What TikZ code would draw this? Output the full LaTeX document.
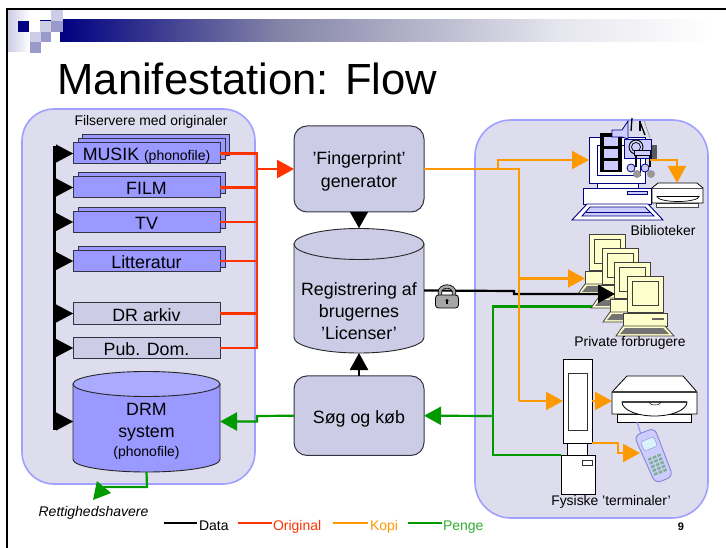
\documentclass[tikz,border=0pt]{standalone}
\usepackage{fontspec}
\setmainfont{Liberation Sans}
\usetikzlibrary{arrows.meta,calc}
\definecolor{navyh}{HTML}{000080}
\definecolor{panelfill}{HTML}{DDDDEE}
\definecolor{panelline}{HTML}{9FA0FF}
\definecolor{boxblue}{HTML}{9999FF}
\definecolor{boxlight}{HTML}{CCCCE6}
\definecolor{edgeline}{HTML}{333344}
\definecolor{redc}{HTML}{FF3300}
\definecolor{orangec}{HTML}{FF9900}
\definecolor{greenc}{HTML}{009900}
\definecolor{creamc}{HTML}{FFFFCC}
\definecolor{iconnavy}{HTML}{000080}
\definecolor{iconlav}{HTML}{CCCCFF}
\definecolor{sqmid}{HTML}{9999CC}
\definecolor{drumtop}{HTML}{AAAAFF}
\newcommand{\fs}[1]{\fontsize{#1}{#1}\selectfont}
% centre x, top ellipse y, bottom ellipse y, rx, ry, body colour, end colour
\newcommand{\drumdraw}[7]{%
  \draw[draw=black!85,line width=.9pt,fill=#6]
    ({#1-#4},#2) -- ({#1-#4},#3)
    arc[start angle=180,end angle=360,x radius=#4pt,y radius=#5pt]
    -- ({#1+#4},#2) -- cycle;
  \draw[draw=black!85,line width=.9pt,fill=#7] (#1,#2) ellipse[x radius=#4pt,y radius=#5pt];}
\newcommand{\creampc}[2]{%
  \begin{scope}[shift={(#1,#2)}]
    \fill[creamc,draw=black!75,line width=.8pt] (-4,37) rectangle (40,50);
    \fill[black!60] (25,42) rectangle (37,44);
    \fill[creamc,draw=black!75,line width=.8pt] (-4,50) -- (38,50) -- (47,60) -- (-11,60) -- cycle;
    \fill[black!55] (-2,52) -- (36,52) -- (42,58) -- (-7,58) -- cycle;
    \fill[creamc,draw=black!75,line width=.8pt] (0,0) rectangle (36,36);
    \fill[creamc,draw=black!75,line width=.8pt] (5,5) rectangle (31,29);
  \end{scope}}
\begin{document}
\begin{tikzpicture}[x=1pt,y=-1pt,
  panel/.style={draw=panelline,fill=panelfill,line width=1.6pt,rounded corners=32pt},
  srv/.style={draw=edgeline,line width=1pt,fill=boxblue},
  boxnode/.style={srv,rectangle,minimum width=147pt,minimum height=21pt,inner sep=0pt,outer sep=0pt,text height=15pt,text depth=0pt,font=\fs{17.8}},
  greybox/.style={boxnode,fill=boxlight},
  procbox/.style={draw=edgeline,fill=boxlight,line width=1pt,rounded corners=13pt,minimum width=130pt,inner sep=0pt,outer sep=0pt,align=center,font=\fs{17.8}},
  drumarea/.style={rectangle,inner sep=0pt,outer sep=0pt},
  lbl/.style={inner sep=0pt,outer sep=0pt,align=center},
  redl/.style={draw=redc,line width=2.2pt},
  orgl/.style={draw=orangec,line width=2.2pt},
  grnl/.style={draw=greenc,line width=2.2pt},
  blkl/.style={draw=black,line width=2.2pt},
  bigtip/.style={-{Triangle[length=17pt,width=18pt]}},
  legline/.style={line width=2.8pt},
  legtxt/.style={inner sep=0pt,outer sep=0pt,anchor=base west,font=\fs{14}},
  ]
\useasboundingbox (0,0) rectangle (726,548);
\fill[white] (0,0) rectangle (726,548);
% slide header
\shade[left color=navyh,right color={rgb,255:red,132;green,132;blue,168}] (60,20) rectangle (280,42);
\shade[left color={rgb,255:red,132;green,132;blue,168},right color={rgb,255:red,230;green,230;blue,238}] (280,20) rectangle (560,42);
\shade[left color={rgb,255:red,230;green,230;blue,238},right color=white] (560,20) rectangle (710,42);
\shade[left color=boxlight,right color=white] (8,10) rectangle (30,52);
\fill[navyh] (18,21) rectangle (29,32);
\fill[boxlight] (40,21) rectangle (51,32);
\fill[navyh] (40,20) rectangle (51,21.5);
\fill[boxlight] (51,10) rectangle (63,21);
\fill[sqmid] (51,21) rectangle (63,32);
\fill[boxlight] (30,32) rectangle (41,42);
\fill[sqmid] (41,32) rectangle (51,42);
\fill[sqmid] (30,42) rectangle (41,53);
\draw[black,line width=2.2pt] (7,548) -- (7,9) -- (726,9);
\node[lbl,anchor=base west,font=\fs{43.6}] (title) at (57.5,95) {Manifestation: Flow};
% panels
\draw[panel] (22,109) rectangle (255,484);
\draw[panel,rounded corners=36pt] (475,120) rectangle (708,518);
\node[lbl,font=\fs{13.9}] (filsrv) at (151,122) {Filservere med originaler};
% stacked servers
\draw[srv] (82,135) rectangle (229,156);
\draw[srv] (78,139) rectangle (225,160);
\node[boxnode] (musik) at (146.5,153.5) {MUSIK {\fs{14}(phonofile)}};
\draw[srv] (78,173) rectangle (225,194);
\node[boxnode] (film) at (146.5,187.5) {FILM};
\draw[srv] (78,207.5) rectangle (225,228.5);
\node[boxnode] (tv) at (146.5,222) {TV};
\draw[srv] (78,246.5) rectangle (225,267.5);
\node[boxnode] (litt) at (146.5,261) {Litteratur};
\node[greybox] (drark) at (146.5,313.5) {DR arkiv};
\node[greybox] (pub) at (146.5,348) {Pub. Dom.};
% DRM cylinder
\node[drumarea,minimum height=101pt,minimum width=147pt] (drm) at (146.5,421.5) {};
\drumdraw{146.5}{384}{459.5}{73.5}{12.5}{boxblue}{drumtop}
\node[lbl,font=\fs{17.8},text depth=0pt] (drmt) at (146.5,430) {DRM\\[3.5pt]system\\[1.5pt]{\fs{14}(phonofile)}};
% centre column
\node[procbox,minimum height=86pt] (fp) at (359,169) {\rule{0pt}{17pt}'Fingerprint'\\[5pt]generator};
\node[drumarea,minimum height=125pt,minimum width=130pt] (reg) at (359,290.5) {};
\drumdraw{359}{244}{337.5}{65}{15.5}{boxlight}{boxlight}
\node[lbl,font=\fs{17.8}] (regt) at (359,311) {Registrering af\hspace{4pt}\\[5pt]brugernes\\[4pt]'Licenser'};
\node[procbox,minimum height=79.5pt] (sog) at (359,415.7) {\rule{0pt}{19pt}Søg og køb};
% anchor coordinates
\coordinate (busR) at (257,169);
\coordinate (libin) at (589,160);
\coordinate (privin) at (585,278.5);
\coordinate (blackin) at (615,294);
\coordinate (termin) at (563,401);
\coordinate (termtop) at (592,401);
\coordinate (bigdisc) at (612,401);
\coordinate (termlow) at (592,443);
\coordinate (phonein) at (640,453);
\coordinate (libout) at (650,160);
\coordinate (smalldisc) at (677,183);
\coordinate (termbase) at (561,455);
\coordinate (pcgreen) at (610,306.5);
\coordinate (rett) at (93,500);
% black data bus
\coordinate (busT) at (54.5,146);
\coordinate (busB) at (54.5,430);
\draw[black,line width=2.6pt] (busT) -- (busB);
\foreach \n in {musik,film,tv,litt,drark,pub,drm}{
  \draw[black,line width=.1pt,-{Triangle[length=17pt,width=18pt]}] (\n.west -| busT) -- (\n.west);
}
% red lines
\foreach \n in {musik,film,tv,litt,drark,pub}{
  \draw[redl] (\n.east) -- (\n.east -| busR);
}
\draw[redl,line cap=rect] (musik.east -| busR) -- (pub.east -| busR);
\draw[draw=redc,line width=2.6pt,bigtip] (busR) -- (fp.west);
% centre black arrows
\draw[black,line width=.1pt,-{Triangle[length=16pt,width=18pt]}] (fp.south) -- (reg.north);
\draw[blkl,line width=2.4pt,bigtip] (sog.north) -- (reg.south);
% green lines under the PCs
\draw[grnl] (pcgreen) -- (493,306.5) -- (493,455) -- (termbase);
\draw[grnl,bigtip] (493,416) -- (sog.east);
\draw[grnl,bigtip] (sog.west) -- (257,416) -- (257,421.5) -- (drm.east);
\draw[grnl,bigtip] (drm.south) -- (147,487) -- (104,487) -- (rett);
% Biblioteker computer
\begin{scope}[draw=iconnavy,line width=.9pt]
  \draw[fill=white] (597,183) rectangle (638,188);
  \draw[fill=white] (583,188) rectangle (651,204);
  \draw[fill=iconlav] (627,191.5) rectangle (647,194.5);
  \draw[fill=white] (587,204) -- (648,204) -- (663,220) -- (572,220) -- cycle;
  \draw[fill=iconlav] (590,207) -- (645,207) -- (654,216) -- (582,216) -- cycle;
  \draw[line width=.6pt] (586,212) -- (650,212);
  \draw[fill=white] (589,137) rectangle (645,183);
  \draw[fill=white] (597,145) rectangle (640,175);
\end{scope}
\fill[black] (600,133) rectangle (622,172);
\foreach \y in {137,149,161}{\fill[iconlav] (604,\y) rectangle (618,\y+9);}
\fill[black!65] (650,145) rectangle (657,160);
\fill[black!40] (637,174) circle[radius=4pt];
\fill[black!40] (651,174) circle[radius=4pt];
\draw[iconnavy,fill=iconlav,line width=.8pt] (612,130) -- (622,130) -- (628,121) -- (628,139) -- (622,137) -- (612,137) -- cycle;
\draw[black,line width=1.3pt] (631,131) -- (632,118);
\draw[black,line width=1.3pt] (640,131) -- (640,121);
\draw[black,line width=1.3pt] (645,135) -- (640,122);
\draw[black!40,line width=.7pt] (650,138) -- (644,120);
\draw[iconnavy,fill=iconlav,line width=.8pt] (624,139) rectangle (651,158);
\draw[black,line width=.9pt,fill=iconlav] (636,147) circle[radius=7pt];
\draw[black,line width=.7pt] (636,147) circle[radius=4.5pt];
\draw[black,fill=iconlav,line width=.7pt] (634,150) rectangle (650,155);
\draw[black,line width=1.2pt] (636,155) -- (636,167);
\draw[black,line width=1.2pt] (650,155) -- (650,167);
\draw[iconnavy,fill=iconlav,line width=.8pt] (631,168) circle[radius=4pt];
\draw[iconnavy,fill=iconlav,line width=.8pt] (645,168) circle[radius=4pt];
% small disc player
\draw[black!70,fill=white,line width=.7pt] (656,203) rectangle (698,207);
\draw[black,fill=white,line width=.8pt] (658,183) -- (697,183) -- (703,188) -- (703,203) -- (652,203) -- (652,188) -- cycle;
\draw[black!70,line width=.8pt] (652,188) -- (703,188);
\draw[black,fill=white,line width=.7pt] (657,196.5) arc[start angle=180,end angle=360,x radius=21pt,y radius=5pt] -- cycle;
% orange lines
\draw[orgl,bigtip] (libout) -- (677,160) -- (smalldisc);
% private PCs
\creampc{589}{234}
\creampc{602}{248}
\creampc{614}{262}
\creampc{627}{276}
% black connector and padlock
\draw[blkl,bigtip] (reg.east) -- (514,291) -- (514,294) -- (blackin);
\node[lbl] (lock) at (447,297) {};
\begin{scope}[shift={(lock)}]
  \draw[black,line width=4.2pt] (-7,0) -- (-7,-5) arc[start angle=180,end angle=0,x radius=7pt,y radius=5.5pt] -- (7,0);
  \draw[black!35,line width=2.6pt] (-7,0) -- (-7,-5) arc[start angle=180,end angle=0,x radius=7pt,y radius=5.5pt] -- (7,0);
  \draw[black,fill=black!35,line width=.8pt,rounded corners=3pt] (-11.5,-2) rectangle (11.5,11);
  \fill[black] (0,3.5) circle[radius=1.6pt];
  \fill[black] (-1.2,3.5) rectangle (1.2,7.5);
\end{scope}
% orange connectors
\draw[orgl] (fp.east) -- (519,169) -- (519,401);
\draw[orgl,bigtip] (498,169) -- (498,160) -- (libin);
\draw[orgl,bigtip] (519,278.5) -- (privin);
\draw[orgl,bigtip] (519,401) -- (termin);
% terminal
\draw[black,fill=white,line width=.8pt] (567,443) rectangle (587,455);
\draw[black,fill=white,line width=.8pt] (561,455) rectangle (595,494);
\draw[black!80,fill=white,line width=.7pt] (582,460) rectangle (592,465);
\draw[black,fill=white,line width=.8pt] (563,359) rectangle (592,443);
\draw[black!80,fill=white,line width=.7pt] (568,373) rectangle (587,430);
\draw[orgl,bigtip] (termtop) -- (bigdisc);
\draw[orgl,bigtip] (termlow) -- (618,443) -- (618,453) -- (phonein);
% big disc player
\draw[black,fill=white,line width=.8pt] (617,414) rectangle (691,422);
\draw[black,fill=white,line width=.8pt] (627,376) -- (683,376) -- (697,392) -- (697,414) -- (612,414) -- (612,392) -- cycle;
\draw[black!75,line width=1.4pt] (612,392) -- (697,392);
\draw[black,fill=white,line width=.8pt] (622,402) arc[start angle=180,end angle=360,x radius=32.5pt,y radius=14pt] -- cycle;
\draw[black!75,line width=1.1pt] (622,402) -- (687,402);
\draw[black,line width=.5pt] (649,402) arc[start angle=180,end angle=360,x radius=6pt,y radius=3pt];
% mobile phone
\begin{scope}[shift={(654,456)},rotate=22]
  \draw[iconlav!70!blue,line width=1pt] (-4,-24) -- (-3,-38);
  \draw[iconnavy!35!iconlav,fill=iconlav,line width=.9pt,rounded corners=6pt] (-11,-26) -- (11,-26) -- (10,26) -- (-9,26) -- cycle;
  \draw[iconnavy!40,fill=cyan!15,line width=.5pt,rounded corners=2pt] (-7,-18) rectangle (7,-8);
  \foreach \y in {0,4,8,12,16}{\foreach \x in {-5,0,5}{\fill[green!30!gray!70!iconlav] (\x-1.8,\y) rectangle (\x+1.8,\y+2.5);}}
\end{scope}
% panel labels
\node[lbl,font=\fs{13.9}] (bib) at (663,230.5) {Biblioteker};
\node[lbl,font=\fs{13.9}] (priv) at (630,343) {Private forbrugere};
\node[lbl,font=\fs{13.9}] (fys) at (611,502) {Fysiske 'terminaler'};
\node[lbl,font=\itshape\fs{14}] (rettl) at (93.5,513) {Rettighedshavere};
% legend
\coordinate (la) at (164,523); \coordinate (lb) at (197,523);
\coordinate (lc) at (238,523); \coordinate (ld) at (272,523);
\coordinate (le) at (333,523); \coordinate (lf) at (368,523);
\coordinate (lg) at (408,523); \coordinate (lh) at (442,523);
\draw[legline,black] (la) -- (lb);
\draw[legline,redc] (lc) -- (ld);
\draw[legline,orangec] (le) -- (lf);
\draw[legline,greenc] (lg) -- (lh);
\node[legtxt] (tdata) at (199,530) {Data};
\node[legtxt,text=redc] (torig) at (273,530) {Original};
\node[legtxt,text=orangec] (tkopi) at (370,530) {Kopi};
\node[legtxt,text=greenc!80!white] (tpenge) at (443,530) {Penge};
\node[lbl,font=\bfseries\fs{11}] (pg) at (681,527) {9};
\end{tikzpicture}
\end{document}
